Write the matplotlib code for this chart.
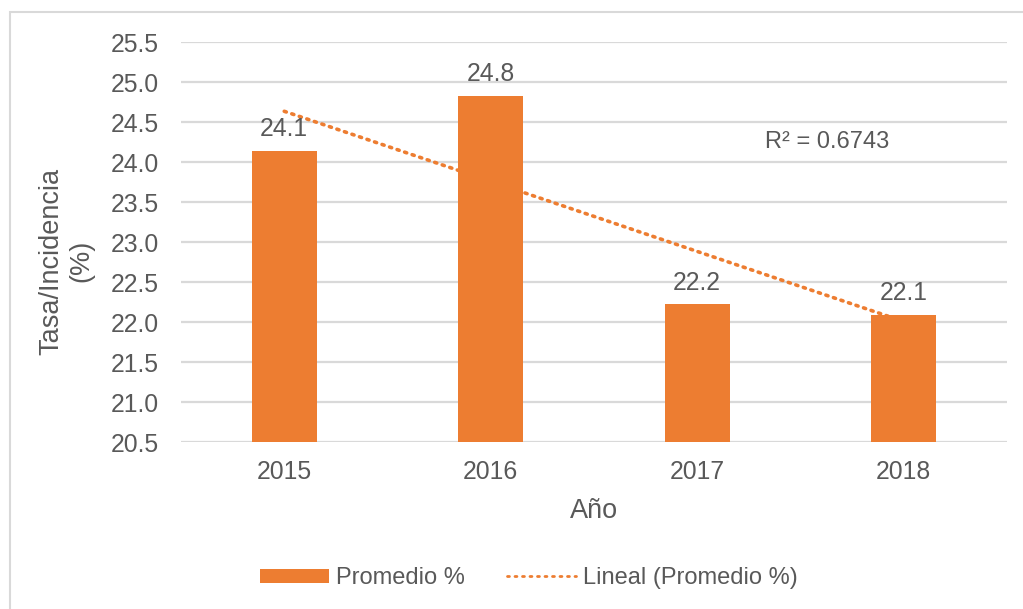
import matplotlib
matplotlib.use("Agg")
import matplotlib.pyplot as plt
import numpy as np
from matplotlib.patches import Rectangle
from matplotlib.lines import Line2D
from matplotlib.patches import Patch

years = ["2015", "2016", "2017", "2018"]
promedio = [24.14, 24.83, 22.22, 22.09]
labels = ["24.1", "24.8", "22.2", "22.1"]
r2_text = "R² = 0.6743"

plt.rcParams['font.family'] = ['Liberation Sans', 'DejaVu Sans']
gray = "#595959"
orange = "#ED7D31"
grid = "#d9d9d9"

fig = plt.figure(figsize=(10.23, 6.09), dpi=100)
ax = fig.add_axes([181/1023, 1-442/609, (1007-181)/1023, 400/609])

x = np.arange(len(years))
ax.bar(x, promedio, width=0.315, color=orange, zorder=2, bottom=0)
ax.set_ylim(20.5, 25.5)
ax.set_xlim(-0.5, 3.5)
yt = np.arange(20.5, 25.51, 0.5)
ax.set_yticks(yt)
ax.set_yticklabels([f"{v:.1f}" for v in yt])
ax.set_xticks(x)
ax.set_xticklabels(years)
ax.tick_params(axis='both', length=0, labelsize=17.8, colors=gray)
ax.tick_params(axis='y', pad=16)
ax.tick_params(axis='x', pad=13)
ax.grid(axis='y', color=grid, linewidth=1.6, zorder=0)
for s in ax.spines.values():
    s.set_visible(False)

for xi, v, lab in zip(x, promedio, labels):
    ax.text(xi, v + 0.12, lab, ha='center', va='bottom', fontsize=17.8, color=gray, zorder=4)

# linear trendline
coef = np.polyfit(x, promedio, 1)
trend = np.polyval(coef, x)
ax.plot(x, trend, linestyle=(0, (0.6, 1.6)), color=orange, linewidth=2.6,
        dash_capstyle='round', zorder=3)
ax.text(2.63, 24.25, r2_text, ha='center', va='center', fontsize=17, color=gray)

ax.set_xlabel("Año", fontsize=19.5, color=gray, labelpad=10)
fig.text(66/1023, 1-261/609, "Tasa/Incidencia\n(%)", rotation=90, ha='center', va='center',
         fontsize=19.5, color=gray, linespacing=1.2)

handles = [Patch(facecolor=orange, edgecolor='none'),
           Line2D([0], [0], color=orange, linestyle=(0, (0.7, 2.0)), linewidth=2.0,
                  dash_capstyle='round')]
fig.legend(handles, ["Promedio %", "Lineal (Promedio %)"], loc='center',
           bbox_to_anchor=(529/1023, 1-578/609), ncol=2, frameon=False,
           fontsize=17, labelcolor=gray, handlelength=2.9, handleheight=0.55,
           columnspacing=1.8, handletextpad=0.3)

fig.patches.append(Rectangle((10/1023, -0.2), 1.2, 1-12/609+0.2, transform=fig.transFigure,
                             fill=False, edgecolor=grid, linewidth=1.5))

fig.savefig("out.png", dpi=100)
